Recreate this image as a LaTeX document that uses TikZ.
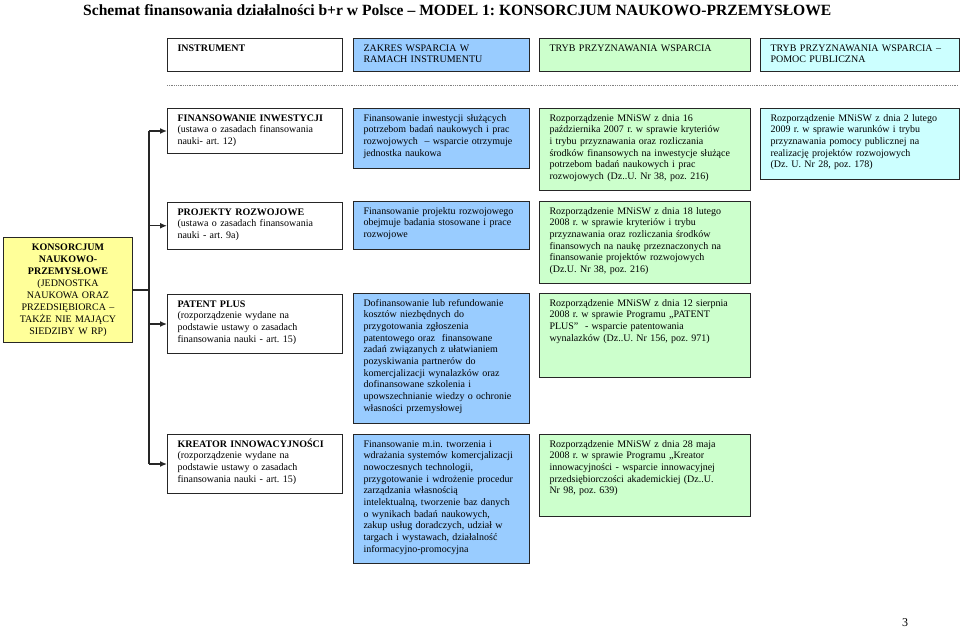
\documentclass[tikz,border=0pt]{standalone}
\usepackage{fontspec}
\setmainfont{Liberation Serif}
\usetikzlibrary{arrows.meta, positioning, calc}
\usepackage[svgnames,table]{xcolor}
\frenchspacing

\definecolor{zakres}{HTML}{99CCFF}
\definecolor{tryb}{HTML}{CCFFCC}
\definecolor{pomoc}{HTML}{CCFFFF}
\definecolor{konsorcjum}{HTML}{FFFF99}

\begin{document}
\begin{tikzpicture}[
            x=1pt, y=-1pt,
            box/.style={draw=black!85, line width=1pt, anchor=north west, align=left, inner xsep=10pt, inner ysep=0pt,
                        text height=12.5pt, font=\fontsize{10}{11.7}\selectfont},
            head/.style={box, text height=15pt, text depth=20pt, font=\fontsize{10.5}{11.7}\selectfont},
            instr/.style={box, fill=white, text width=155pt},
            zakres/.style={box, fill=zakres, text width=156pt},
            tryb/.style={box, fill=tryb, text width=191pt},
            pomoc/.style={box, fill=pomoc, text width=179pt},
            line/.style={line width=1.3pt, draw=black!85},
            arr/.style={line, -{Latex[length=7pt, width=6pt]}}
        ]
            \useasboundingbox (0,0) rectangle (960,629);

            \node[anchor=base west, inner sep=0pt, font=\fontsize{15.6}{18}\selectfont\bfseries] (title) at (83,16)
                {Schemat finansowania działalności b+r w Polsce – MODEL 1: KONSORCJUM NAUKOWO-PRZEMYSŁOWE};

            % naglowki kolumn
            \node[head, instr] (hinstr) at (167,38) {\textbf{INSTRUMENT}};
            \node[head, zakres] (hzakres) at (353,38) {ZAKRES WSPARCIA W\\RAMACH INSTRUMENTU};
            \node[head, tryb] (htryb) at (539,38) {TRYB PRZYZNAWANIA WSPARCIA};
            \node[head, pomoc] (hpomoc) at (760,38) {TRYB PRZYZNAWANIA WSPARCIA –\\POMOC PUBLICZNA};
            \draw[gray, densely dotted, line width=0.8pt] (167,85) -- (958,85);

            % finansowanie inwestycji
            \node[instr, text depth=32.5pt] (inw) at (167,108)
                {\textbf{FINANSOWANIE INWESTYCJI}\\(ustawa o zasadach finansowania\\nauki- art. 12)};
            \node[zakres, text depth=47pt] (inwz) at (353,108)
                {Finansowanie inwestycji służących\\potrzebom badań naukowych i prac\\rozwojowych~~– wsparcie otrzymuje\\jednostka naukowa};
            \node[tryb, text depth=69.5pt] (inwt) at (539,108)
                {Rozporządzenie MNiSW z dnia 16\\października 2007 r. w sprawie kryteriów\\i trybu przyznawania oraz rozliczania\\środków finansowych na inwestycje służące\\potrzebom badań naukowych i prac\\rozwojowych (Dz..U. Nr 38, poz. 216)};
            \node[pomoc, text depth=58.5pt] (inwp) at (760,108)
                {Rozporządzenie MNiSW z dnia 2 lutego\\2009 r. w sprawie warunków i trybu\\przyznawania pomocy publicznej na\\realizację projektów rozwojowych\\(Dz. U. Nr 28, poz. 178)};

            % projekty rozwojowe
            \node[instr, text depth=34pt] (proj) at (167,202)
                {\textbf{PROJEKTY ROZWOJOWE}\\(ustawa o zasadach finansowania\\nauki - art. 9a)};
            \node[zakres, text depth=35.5pt] (projz) at (353,201)
                {Finansowanie projektu rozwojowego\\obejmuje badania stosowane i prace\\rozwojowe};
            \node[tryb, text depth=69.5pt] (projt) at (539,201)
                {Rozporządzenie MNiSW z dnia 18 lutego\\2008 r. w sprawie kryteriów i trybu\\przyznawania oraz rozliczania środków\\finansowych na naukę przeznaczonych na\\finansowanie projektów rozwojowych\\(Dz.U. Nr 38, poz. 216)};

            % patent plus
            \node[instr, text depth=46.5pt] (pat) at (167,294)
                {\textbf{PATENT PLUS}\\(rozporządzenie wydane na\\podstawie ustawy o zasadach\\finansowania nauki - art. 15)};
            \node[zakres, text depth=117.5pt] (patz) at (353,293)
                {Dofinansowanie lub refundowanie\\kosztów niezbędnych do\\przygotowania zgłoszenia\\patentowego oraz~ finansowane\\zadań związanych z ułatwianiem\\pozyskiwania partnerów do\\komercjalizacji wynalazków oraz\\dofinansowane szkolenia i\\upowszechnianie wiedzy o ochronie\\własności przemysłowej};
            \node[tryb, text depth=71.5pt] (patt) at (539,293)
                {Rozporządzenie MNiSW z dnia 12 sierpnia\\2008 r. w sprawie Programu „PATENT\\PLUS”~ - wsparcie patentowania\\wynalazków (Dz..U. Nr 156, poz. 971)};

            % kreator innowacyjnosci
            \node[instr, text depth=46.5pt] (kre) at (167,434)
                {\textbf{KREATOR INNOWACYJNOŚCI}\\(rozporządzenie wydane na\\podstawie ustawy o zasadach\\finansowania nauki - art. 15)};
            \node[zakres, text depth=116.5pt] (krez) at (353,434)
                {Finansowanie m.in. tworzenia i\\wdrażania systemów komercjalizacji\\nowoczesnych technologii,\\przygotowanie i wdrożenie procedur\\zarządzania własnością\\intelektualną, tworzenie baz danych\\o wynikach badań naukowych,\\zakup usług doradczych, udział w\\targach i wystawach, działalność\\informacyjno-promocyjna};
            \node[tryb, text depth=69.5pt] (kret) at (539,434)
                {Rozporządzenie MNiSW z dnia 28 maja\\2008 r. w sprawie Programu „Kreator\\innowacyjności - wsparcie innowacyjnej\\przedsiębiorczości akademickiej (Dz..U.\\Nr 98, poz. 639)};

            % konsorcjum
            \node[box, fill=konsorcjum, align=center, inner xsep=5pt, text width=119pt, text height=13pt, text depth=92pt,
                  font=\fontsize{10}{12}\selectfont] (kons) at (3,237)
                {\textbf{KONSORCJUM}\\\textbf{NAUKOWO-}\\\textbf{PRZEMYSŁOWE}\\(JEDNOSTKA\\NAUKOWA ORAZ\\PRZEDSIĘBIORCA –\\TAKŻE NIE MAJĄCY\\SIEDZIBY W RP)};

            \coordinate (trunk) at (149,0);
            \draw[line] (kons.east) -- (trunk |- kons.east);
            \draw[line] (trunk |- inw.west) -- (trunk |- kre.west);
            \foreach \n in {inw, proj, pat, kre}
                \draw[arr] (trunk |- \n.west) -- (\n.west);

            \node[anchor=base, font=\fontsize{12}{14}\selectfont] (page) at (905,626) {3};
        \end{tikzpicture}
\end{document}
